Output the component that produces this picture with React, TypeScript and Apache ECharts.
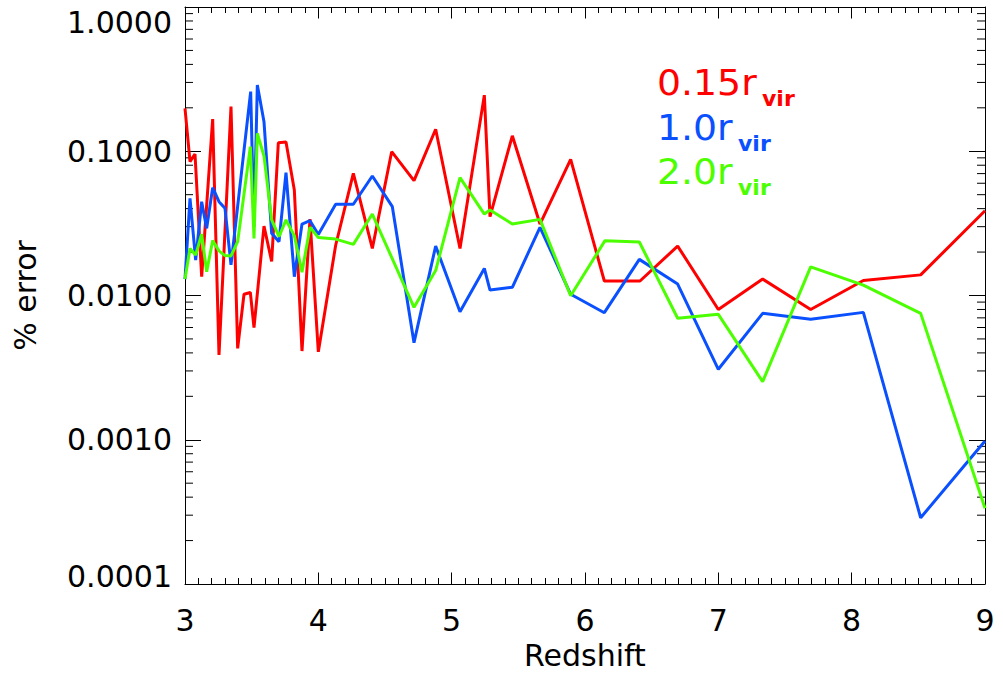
import React, { useEffect, useRef } from "react";
import * as echarts from "echarts";

// ---- data ----
const redZ = [3.0, 3.0375, 3.075, 3.125, 3.2075, 3.255, 3.345, 3.395, 3.4425, 3.49, 3.5175, 3.5925, 3.65, 3.70, 3.7575, 3.82, 3.8775, 3.9375, 4.0, 4.13, 4.2625, 4.405, 4.55, 4.7175, 4.88, 5.0625, 5.245, 5.2875, 5.455, 5.6625, 5.8925, 6.145, 6.4125, 6.695, 7.0, 7.3325, 7.6925, 8.0875, 8.5175, 9.0];
const redErr = [0.198, 0.0847, 0.0957, 0.0135, 0.167, 0.00387, 0.204, 0.0043, 0.0102, 0.0105, 0.006, 0.0303, 0.0172, 0.1146, 0.116, 0.0539, 0.00412, 0.0339, 0.00407, 0.0223, 0.0703, 0.0212, 0.0993, 0.0625, 0.142, 0.0212, 0.245, 0.0352, 0.128, 0.0313, 0.0879, 0.0126, 0.0126, 0.022, 0.008, 0.013, 0.008, 0.0127, 0.0139, 0.0387];

const blueZ = [3.0, 3.0375, 3.08, 3.125, 3.1625, 3.2075, 3.255, 3.30, 3.345, 3.4925, 3.5175, 3.5425, 3.5925, 3.65, 3.705, 3.7575, 3.82, 3.8775, 3.9375, 4.0, 4.13, 4.2625, 4.405, 4.555, 4.7175, 4.88, 5.0625, 5.245, 5.2875, 5.455, 5.6625, 5.8925, 6.145, 6.4075, 6.695, 7.0, 7.3325, 7.6925, 8.0875, 8.5175, 9.0];
const blueErr = [0.013, 0.0472, 0.0176, 0.0447, 0.0292, 0.0559, 0.0447, 0.0402, 0.0163, 0.259, 0.03, 0.288, 0.16, 0.027, 0.0236, 0.071, 0.0135, 0.0313, 0.033, 0.0265, 0.0429, 0.0429, 0.0674, 0.0413, 0.00471, 0.022, 0.00772, 0.0154, 0.0109, 0.0114, 0.0297, 0.0102, 0.0076, 0.0178, 0.012, 0.00308, 0.00752, 0.00684, 0.00764, 0.000288, 0.00098];

const greenZ = [3.0, 3.0375, 3.08, 3.125, 3.1625, 3.2075, 3.255, 3.30, 3.345, 3.395, 3.49, 3.5175, 3.5425, 3.5925, 3.65, 3.705, 3.7575, 3.82, 3.8775, 3.9375, 4.0, 4.13, 4.2625, 4.405, 4.7175, 4.88, 5.0625, 5.245, 5.2875, 5.455, 5.6625, 5.8925, 6.15, 6.4075, 6.695, 7.0, 7.3325, 7.6925, 8.0875, 8.5175, 9.0];
const greenErr = [0.013, 0.0212, 0.0191, 0.0266, 0.0146, 0.024, 0.0204, 0.0189, 0.0188, 0.0236, 0.1076, 0.0249, 0.133, 0.0927, 0.0334, 0.0256, 0.0334, 0.026, 0.0145, 0.0297, 0.0252, 0.0246, 0.0226, 0.0367, 0.00828, 0.0149, 0.0656, 0.0367, 0.0392, 0.0313, 0.0337, 0.00997, 0.024, 0.0235, 0.00695, 0.0074, 0.00253, 0.0158, 0.0118, 0.00752, 0.000335];

const seriesNames = ["0.15", "1.0", "2.0"];
const seriesColors = ["#ff0000", "#0a50ff", "#4cff00"];

const xTicks = [3, 4, 5, 6, 7, 8, 9];
const yDecades = [0.0001, 0.001, 0.01, 0.1, 1];
const minorMultipliers = [2, 3, 4, 5, 6, 7, 8, 9];

const FONT = "DejaVu Sans";

function pairs(xs: number[], ys: number[]) {
  return xs.map((x, i) => [x, ys[i]]);
}

export default function App() {
  const ref = useRef<HTMLDivElement>(null);
  useEffect(() => {
    if (!ref.current) return;
    const chart = echarts.init(ref.current, null, { renderer: "svg" });

    const minorVals: number[][] = [];
    yDecades.slice(0, -1).forEach((d) => {
      minorMultipliers.forEach((m) => minorVals.push([xTicks[0], d * m]));
    });

    const axisLineStyle = { color: "#000", width: 1 };
    const lineSeries = (name: string, data: number[][], color: string) => ({
      name,
      type: "line",
      data,
      showSymbol: false,
      symbol: "none",
      lineStyle: { color, width: 3 },
      itemStyle: { color },
      z: 3,
    });

    const legendTexts: any[] = [];
    const legendY = [83, 128, 172];
    seriesNames.forEach((n, i) => {
      legendTexts.push({
        type: "text",
        x: 657,
        y: legendY[i],
        scaleX: 1.05,
        style: {
          text: n + "r",
          fill: seriesColors[i],
          font: `36px "${FONT}"`,
          verticalAlign: "middle",
        },
      });
    });
    const subX = [762, 738, 738];
    seriesNames.forEach((n, i) => {
      legendTexts.push({
        type: "text",
        x: subX[i],
        y: legendY[i] + 15,
        style: {
          text: "vir",
          fill: seriesColors[i],
          font: `bold 22px "${FONT}"`,
          verticalAlign: "middle",
        },
      });
    });

    const yMin = yDecades[0];
    const yMax = yDecades[yDecades.length - 1];

    chart.setOption({
      animation: false,
      backgroundColor: "#fff",
      grid: { left: 185, right: 18, top: 7, bottom: 94, containLabel: false },
      xAxis: [
        {
          type: "value",
          min: 3,
          max: 9,
          interval: 1,
          position: "bottom",
          name: "Redshift",
          nameLocation: "middle",
          nameGap: 56,
          nameTextStyle: { fontSize: 30, fontFamily: FONT, color: "#000" },
          axisLine: { show: true, lineStyle: axisLineStyle },
          axisTick: { show: true, inside: true, length: 11.5, lineStyle: { color: "#000", width: 1 } },
          minorTick: { show: true, splitNumber: 10, length: 6, lineStyle: { color: "#000", width: 1 } },
          axisLabel: { fontSize: 30, fontFamily: FONT, color: "#000", margin: 21 },
          splitLine: { show: false },
        },
        {
          type: "value",
          min: 3,
          max: 9,
          interval: 1,
          position: "top",
          axisLine: { show: true, lineStyle: axisLineStyle },
          axisTick: { show: true, inside: true, length: 11.5, lineStyle: { color: "#000", width: 1 } },
          minorTick: { show: true, splitNumber: 10, length: 6, lineStyle: { color: "#000", width: 1 } },
          axisLabel: { show: false },
          splitLine: { show: false },
        },
      ],
      yAxis: [
        {
          type: "log",
          logBase: 10,
          min: yMin,
          max: yMax,
          position: "left",
          name: "% error",
          nameLocation: "middle",
          nameRotate: 90,
          nameGap: 145,
          nameTextStyle: { fontSize: 30, fontFamily: FONT, color: "#000" },
          axisLine: { show: true, lineStyle: axisLineStyle },
          axisTick: { show: true, inside: true, length: 16, lineStyle: { color: "#000", width: 1 } },
          axisLabel: {
            fontSize: 30,
            fontFamily: FONT,
            color: "#000",
            margin: 13,
            verticalAlignMaxLabel: "top",
            formatter: (v: number) => {
              const s = Number(v).toFixed(4);
              if (Math.abs(v - yMin) < 1e-12) return `{bot|${s}}`;
              return s;
            },
            rich: {
              bot: { fontSize: 30, fontFamily: FONT, color: "#000", padding: [0, 0, 16, 0] },
            },
          },
          splitLine: { show: false },
        },
        {
          type: "log",
          logBase: 10,
          min: yMin,
          max: yMax,
          position: "right",
          axisLine: { show: true, lineStyle: axisLineStyle },
          axisTick: { show: true, inside: true, length: 16, lineStyle: { color: "#000", width: 1 } },
          axisLabel: { show: false },
          splitLine: { show: false },
        },
      ],
      series: [
        {
          type: "custom",
          coordinateSystem: "cartesian2d",
          xAxisIndex: 0,
          yAxisIndex: 0,
          silent: true,
          z: 1,
          clip: false,
          data: minorVals,
          encode: { x: 0, y: 1 },
          renderItem: (params: any, api: any) => {
            const p = api.coord([api.value(0), api.value(1)]);
            const cs = params.coordSys;
            const st = { stroke: "#000", lineWidth: 1 };
            return {
              type: "group",
              children: [
                { type: "line", shape: { x1: cs.x, y1: p[1], x2: cs.x + 8, y2: p[1] }, style: st },
                { type: "line", shape: { x1: cs.x + cs.width - 8, y1: p[1], x2: cs.x + cs.width, y2: p[1] }, style: st },
              ],
            };
          },
        },
        lineSeries(seriesNames[0], pairs(redZ, redErr), seriesColors[0]),
        lineSeries(seriesNames[1], pairs(blueZ, blueErr), seriesColors[1]),
        lineSeries(seriesNames[2], pairs(greenZ, greenErr), seriesColors[2]),
      ],
      graphic: legendTexts,
    });
    return () => chart.dispose();
  }, []);
  return (
    <div
      ref={ref}
      style={{ position: "fixed", left: 0, top: 0, width: 1003, height: 678, background: "#fff" }}
    />
  );
}
